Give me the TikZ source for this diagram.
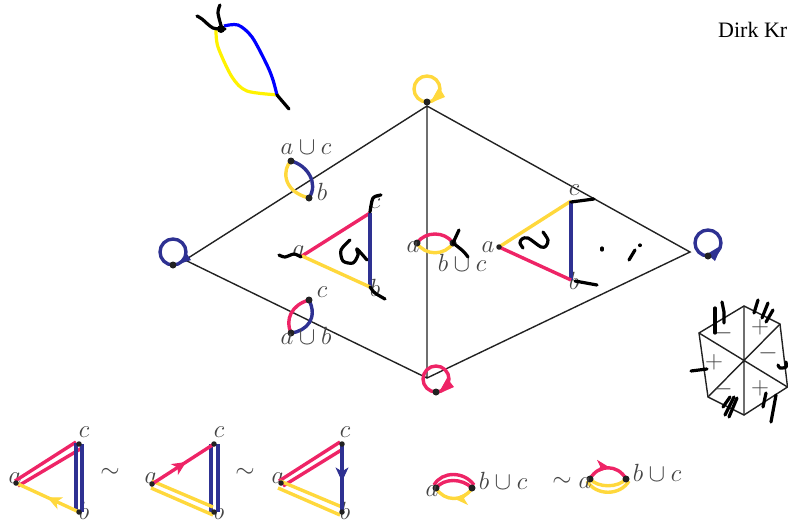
\documentclass[tikz,border=0pt]{standalone}
\usepackage{fontspec}
\newfontfamily\dirkfont{Liberation Serif}
\usetikzlibrary{arrows.meta,decorations.markings}
\definecolor{kpink}{HTML}{EE2466}
\definecolor{kyellow}{HTML}{FFD83C}
\definecolor{kblue}{HTML}{2E3192}
\definecolor{kdark}{HTML}{222222}
\definecolor{klabel}{HTML}{444444}
\tikzset{
  x=1pt,y=-1pt,
  vdot/.style={circle,fill=kdark,inner sep=0pt,minimum size=7pt},
  sdot/.style={circle,fill=kdark,inner sep=0pt,minimum size=5.5pt},
  thinline/.style={draw=kdark,line width=1.4pt},
  pinkline/.style={draw=kpink,line width=3.4pt},
  yellowline/.style={draw=kyellow,line width=3.4pt},
  blueline/.style={draw=kblue,line width=3.4pt},
  hand/.style={draw=black,line width=3.2pt,line cap=round,line join=round},
  hexline/.style={draw=kdark,line width=1.4pt},
  lab/.style={text=klabel,inner sep=0pt,font=\fontsize{24.5}{25}\selectfont},
  sign/.style={text=klabel,inner sep=0pt,font=\fontsize{24.5}{25}\selectfont},
  midarrow/.style={postaction={decorate},decoration={markings,mark=at position #1 with {\arrow[line width=1pt]{Stealth[length=14pt,width=13pt,inset=4pt]}}}},
}
\begin{document}
\begin{tikzpicture}
\useasboundingbox (0,0) rectangle (788,523);
\node[anchor=base west,inner sep=0pt,font=\fontsize{22}{22}\selectfont\dirkfont] (author) at (718,37) {Dirk Kr};
% top sketch
\coordinate (sa) at (221,29); \coordinate (sb) at (277,95);
\draw[draw=yellow,line width=3.2pt] plot[smooth] coordinates {(216,30) (218,47) (232,77) (247,91) (279,95)};
\draw[draw=blue,line width=3.2pt] plot[smooth] coordinates {(224,26) (238,25) (252,37) (267,65) (273,80) (277,95)};
\draw[hand] plot[smooth] coordinates {(197,16) (202,19) (213,28) (225,29)};
\draw[hand] plot[smooth] coordinates {(220,5) (218,13) (222,29)};
\fill[black] (sa) circle (4);
\draw[hand] (sb) -- (289,109);
% diamond
\coordinate (T) at (427,106); \coordinate (L) at (185,260);
\coordinate (B) at (427,378); \coordinate (R) at (690,252);
\draw[thinline] (L) -- (T) -- (R) -- (B) -- cycle (T) -- (B);
% loops
\draw[yellowline] (427,89) circle (13);
\fill[kyellow] (445,97) -- (439,87) -- (430,103) -- cycle;
\node[vdot] (dt) at (427,102) {};
\draw[blueline] (173,252) circle (13);
\fill[kblue] (176,265) -- (187,254) -- (191,260) -- cycle;
\node[vdot] (dl) at (173,265) {};
\draw[blueline] (708,243) circle (13);
\fill[kblue] (722,245) -- (715,261) -- (707,254) -- cycle;
\node[vdot] (dr) at (708,256) {};
\draw[pinkline] (436,379) circle (13);
\fill[kpink] (454,387) -- (438,394) -- (447,378) -- cycle;
\node[vdot] (db) at (436,392) {};
% lens a cup c
\coordinate (l1a) at (291,161); \coordinate (l1b) at (309,198);
\draw[blueline] (l1a) .. controls (307,165) and (319,183) .. (l1b);
\draw[yellowline] (l1a) .. controls (283,168) and (281,191) .. (l1b);
\node[vdot] at (l1a) {}; \node[vdot] at (l1b) {};
\node[lab] at (306,148) {$a\cup c$};
\node[lab] at (322,192) {$b$};
% lens a cup b
\coordinate (l2a) at (291,333); \coordinate (l2c) at (309,300);
\draw[pinkline] (l2a) .. controls (285,320) and (291,305) .. (l2c);
\draw[blueline] (l2a) .. controls (307,331) and (318,318) .. (l2c);
\node[vdot] at (l2a) {}; \node[vdot] at (l2c) {};
\node[lab] at (322,292) {$c$};
\node[lab] at (306,336) {$a\cup b$};
% central triangle
\coordinate (ca) at (302,256); \coordinate (cc) at (370,213); \coordinate (cb) at (370,287);
\node[lab] at (299,251) {$a$};
\node[lab] at (375,203) {$c$};
\node[lab] at (375,288) {$b$};
\draw[pinkline] (ca) -- (cc);
\draw[blueline] (cc) -- (cb);
\draw[yellowline] (ca) -- (cb);
\draw[hand] plot[smooth] coordinates {(279,255) (285,257) (294,254) (301,257)};
\draw[hand] plot[smooth] coordinates {(381,195) (373,198) (370,212)};
\draw[hand] plot[smooth] coordinates {(370,287) (375,293) (385,299)};
\draw[hand] plot[smooth] coordinates {(350,240) (341,250) (343,261) (353,263) (358,255) (357,249) (367,260)};
% middle lens
\coordinate (ma) at (417,243); \coordinate (mb) at (453,243);
\draw[pinkline] (ma) .. controls (425,231) and (445,231) .. (mb);
\draw[yellowline] (ma) .. controls (425,256) and (445,256) .. (mb);
\node[vdot] at (ma) {}; \node[vdot] at (mb) {};
\node[lab] at (413,247) {$a$};
\node[lab] at (462,263) {$b\cup c$};
\draw[hand] (459,230) -- (453,243);
\draw[hand] plot[smooth] coordinates {(453,243) (463,251) (468,257)};
% right triangle
\coordinate (ra) at (499,247); \coordinate (rc) at (571,201); \coordinate (rb) at (571,280);
\node[lab] at (488,247) {$a$};
\node[lab] at (574,190) {$c$};
\node[lab] at (574,281) {$b$};
\draw[yellowline] (ra) -- (rc);
\draw[blueline] (rc) -- (rb);
\draw[pinkline] (ra) -- (rb);
\node[sdot] at (ra) {};
\draw[hand] (571,202) -- (594,199);
\draw[hand] (575,281) -- (597,285);
\draw[hand] plot[smooth] coordinates {(523,248) (520,243) (522,239) (528,238) (541,247) (546,246) (548,240) (543,232)};
\draw[hand] (602,248) -- (602,250);
\draw[hand] (640,245) -- (640,245.5);
\draw[hand] (635,250) -- (629,260);
% hexagon
\coordinate (hc) at (743,361);
\coordinate (h1) at (744,306); \coordinate (h2) at (780,324); \coordinate (h3) at (787.5,387);
\coordinate (h4) at (744,415); \coordinate (h5) at (708,397); \coordinate (h6) at (699,333);
\draw[hexline] (h1) -- (h2) -- (h3) -- (h4) -- (h5) -- (h6) -- cycle;
\draw[hexline] (h1) -- (h4) (h2) -- (h5) (h3) -- (h6);
\node[sign] at (760,327) {$+$};
\node[sign] at (768,353) {$-$};
\node[sign] at (760,388) {$+$};
\node[sign] at (723,389) {$-$};
\node[sign] at (714,362) {$+$};
\node[sign] at (723,333) {$-$};
\draw[hand] (715,308) -- (715,333);
\draw[hand] (722,302) -- (724,312) -- (724,323);
\draw[hand] (758,300) -- (754,313);
\draw[hand] (768,303) -- (762,318);
\draw[hand] (773,310) -- (766,322);
\draw[hand] plot[smooth] coordinates {(778,365) (780,368) (786,367) (786,362)};
\draw[hand] (691,371) -- (707,369);
\draw[hand] (730,397) -- (723,407);
\draw[hand] (734,397) -- (725,415);
\draw[hand] (737,398) -- (729,417);
\draw[hand] (766,393) -- (763,407);
\draw[hand] (776,395) -- (771,422);
% bottom triangles
\coordinate (t1a) at (16,483); \coordinate (t1c) at (79,444); \coordinate (t1b) at (79,512);
\node[lab] at (15,478) {$a$}; \node[lab] at (84,432) {$c$}; \node[lab] at (84,510.5) {$b$};
\draw[pinkline] (15,481) -- (76,442);
\draw[pinkline] (18,486) -- (82,448);
\draw[blueline] (76,443) -- (76,510);
\draw[blueline] (82,444) -- (82,512);
\draw[yellowline,midarrow=.5] (t1b) -- (t1a);
\node[sdot] at (t1a) {}; \node[sdot] at (t1c) {}; \node[sdot] at (t1b) {};
\node[lab] at (110,473) {$\sim$};
\coordinate (t2a) at (152,484); \coordinate (t2c) at (214,444); \coordinate (t2b) at (214,512);
\node[lab] at (151,478) {$a$}; \node[lab] at (219,432) {$c$}; \node[lab] at (219,510.5) {$b$};
\draw[blueline] (211,444) -- (211,512);
\draw[blueline] (218,444) -- (218,512);
\draw[yellowline] (152,481) -- (213,507);
\draw[yellowline] (151,488) -- (213,515);
\draw[pinkline,midarrow=.55] (t2a) -- (t2c);
\node[sdot] at (t2a) {}; \node[sdot] at (t2c) {}; \node[sdot] at (t2b) {};
\node[lab] at (245,473) {$\sim$};
\coordinate (t3a) at (281,483); \coordinate (t3c) at (342,444); \coordinate (t3b) at (342,512);
\node[lab] at (278,478) {$a$}; \node[lab] at (345,432) {$c$}; \node[lab] at (345,510.5) {$b$};
\draw[pinkline] (279,481) -- (340,442);
\draw[pinkline] (283,486) -- (343,449);
\draw[yellowline] (280,481) -- (342,507);
\draw[yellowline] (278,488) -- (340,515);
\draw[blueline,midarrow=.55] (t3c) -- (t3b);
\node[sdot] at (t3a) {}; \node[sdot] at (t3c) {}; \node[sdot] at (t3b) {};
% bottom lenses
\coordinate (p1) at (436,488); \coordinate (p2) at (472,488);
\draw[pinkline] (434,485) .. controls (442,471) and (464,471) .. (474,485);
\draw[pinkline] (p1) .. controls (444,478) and (462,478) .. (p2);
\draw[yellowline,midarrow=.5] (p2) .. controls (464,502) and (444,502) .. (p1);
\node[vdot] at (p1) {}; \node[vdot] at (p2) {};
\node[lab] at (432,491) {$a$};
\node[lab] at (503,481) {$b\cup c$};
\node[lab] at (562,482) {$\sim$};
\coordinate (q1) at (590,479); \coordinate (q2) at (626,479);
\draw[pinkline,midarrow=.55] (q1) .. controls (598,464) and (618,464) .. (q2);
\draw[yellowline] (q1) .. controls (598,488) and (618,488) .. (q2);
\draw[yellowline] (587,481) .. controls (596,496) and (620,496) .. (629,481);
\node[vdot] at (q1) {}; \node[vdot] at (q2) {};
\node[lab] at (585,483) {$a$};
\node[lab] at (657,473) {$b\cup c$};
\end{tikzpicture}
\end{document}
